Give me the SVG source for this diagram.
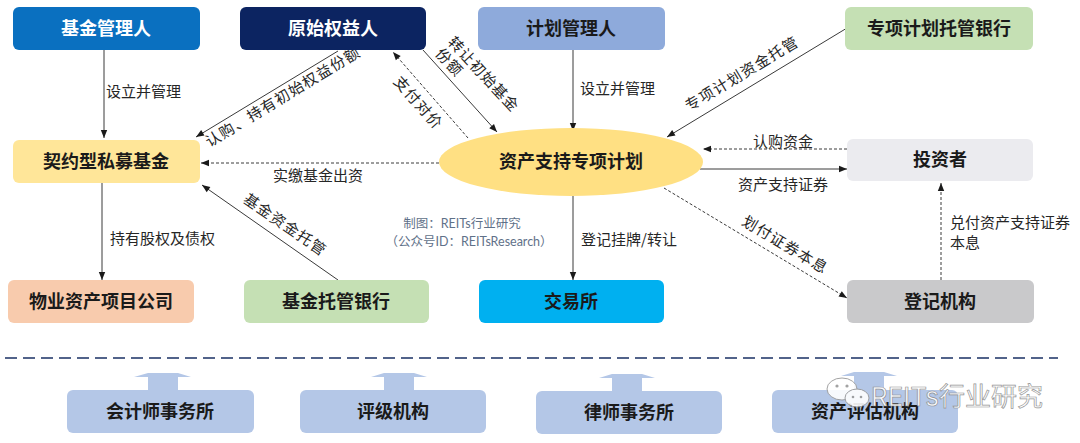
<svg xmlns="http://www.w3.org/2000/svg" width="1080" height="443" viewBox="0 0 1080 443">
<style>
  .bt{font-family:"Noto Sans CJK SC","Noto Sans",sans-serif;font-size:18px;font-weight:700;text-anchor:middle;fill:#1a1a1a}
  .wt{fill:#ffffff}
  .lb{font-family:"Noto Sans CJK SC","Noto Sans",sans-serif;font-size:15px;fill:#262626}
  .rl{letter-spacing:1.2px;text-anchor:middle}
  .mid{text-anchor:middle}
  .ln{stroke:#3a3a3a;stroke-width:1;fill:none}
  .ds{stroke:#3a3a3a;stroke-width:1;fill:none;stroke-dasharray:3 2}
  .ba{fill:#B4C7E7}
  .src{font-family:"Lato","Noto Sans CJK SC",sans-serif;font-size:12.5px;fill:#5f7189;text-anchor:middle}
</style>
<defs>
  <marker id="ah" viewBox="0 0 10 10" refX="10" refY="5" markerWidth="9" markerHeight="8" orient="auto" markerUnits="userSpaceOnUse">
    <path d="M0,1 L10,5 L0,9 z" fill="#1a1a1a"/>
  </marker>
</defs>
<rect width="1080" height="443" fill="#ffffff"/>

<g id="connectors">
  <path class="ln" d="M104,50 V138" marker-end="url(#ah)"/>
  <path class="ln" d="M338,51 L196,137" marker-end="url(#ah)"/>
  <path class="ds" d="M468,138 L393,52" marker-end="url(#ah)"/>
  <path class="ln" d="M423,50 L497,132" marker-end="url(#ah)"/>
  <path class="ln" d="M573,50 V131" marker-end="url(#ah)"/>
  <path class="ln" d="M847,28 L667,137" marker-end="url(#ah)"/>
  <path class="ds" d="M439,163 H201" marker-end="url(#ah)"/>
  <path class="ds" d="M847,149 H703" marker-end="url(#ah)"/>
  <path class="ln" d="M700,169 H847" marker-end="url(#ah)"/>
  <path class="ln" d="M102,183 V280" marker-end="url(#ah)"/>
  <path class="ln" d="M338,280 L202,185" marker-end="url(#ah)"/>
  <path class="ln" d="M573,196 V280" marker-end="url(#ah)"/>
  <path class="ds" d="M664,188 L847,298" marker-end="url(#ah)"/>
  <path class="ds" d="M941,280 V183" marker-end="url(#ah)"/>

  <text class="lb" x="106" y="97">设立并管理</text>
  <text class="lb" x="580" y="94">设立并管理</text>
  <text class="lb mid" x="318" y="181">实缴基金出资</text>
  <text class="lb mid" x="783" y="147">认购资金</text>
  <text class="lb mid" x="783" y="190">资产支持证券</text>
  <text class="lb" x="110" y="244">持有股权及债权</text>
  <text class="lb" x="581" y="245">登记挂牌/转让</text>
  <text class="lb" x="950" y="228">兑付资产支持证券</text>
  <text class="lb" x="950" y="248">本息</text>

  <text class="lb rl" transform="translate(283,97) rotate(-31.3)" y="5">认购、持有初始权益份额</text>
  <text class="lb rl" transform="translate(418,103) rotate(48.5)" y="5">支付对价</text>
  <text class="lb" transform="translate(482,73) rotate(47)" style="letter-spacing:1px"><tspan x="-46" y="5">转让初始基金</tspan><tspan x="-46" y="22">份额</tspan></text>
  <text class="lb rl" transform="translate(742,74) rotate(-31)" y="5">专项计划资金托管</text>
  <text class="lb rl" transform="translate(285,225) rotate(34.6)" y="5">基金资金托管</text>
  <text class="lb rl" transform="translate(785,245) rotate(31)" y="5">划付证券本息</text>
</g>

<g id="n-jjglr"><rect x="13" y="7" width="187" height="43" rx="6" fill="#0A70C0"/><text class="bt wt" x="106" y="35">基金管理人</text></g>
<g id="n-ysqyr"><rect x="240" y="7" width="186" height="43" rx="6" fill="#0C2461"/><text class="bt wt" x="333" y="35">原始权益人</text></g>
<g id="n-jhglr"><rect x="478" y="7" width="187" height="43" rx="6" fill="#8EAADB"/><text class="bt" x="571" y="35">计划管理人</text></g>
<g id="n-zxtg"><rect x="845" y="7" width="188" height="43" rx="6" fill="#C5E0B4"/><text class="bt" x="939" y="35">专项计划托管银行</text></g>
<g id="n-smjj"><rect x="13" y="140" width="187" height="43" rx="6" fill="#FFE699"/><text class="bt" x="106" y="168">契约型私募基金</text></g>
<g id="n-zxjh"><ellipse cx="571" cy="162" rx="132" ry="34" fill="#FFE083"/><text class="bt" x="571" y="168">资产支持专项计划</text></g>
<g id="n-tzz"><rect x="847" y="139" width="186" height="42" rx="6" fill="#EBEBEF"/><text class="bt" x="940" y="166">投资者</text></g>
<g id="n-wyzc"><rect x="8" y="280" width="186" height="43" rx="6" fill="#F8CBAD"/><text class="bt" x="101" y="308">物业资产项目公司</text></g>
<g id="n-jjtg"><rect x="244" y="280" width="185" height="43" rx="6" fill="#C5E0B4"/><text class="bt" x="336" y="308">基金托管银行</text></g>
<g id="n-jys"><rect x="479" y="280" width="185" height="43" rx="6" fill="#00B0F0"/><text class="bt" x="571" y="308">交易所</text></g>
<g id="n-djjg"><rect x="847" y="280" width="187" height="43" rx="6" fill="#C9C9CB"/><text class="bt" x="940" y="308">登记机构</text></g>

<g id="watermark-source">
  <text class="src" x="462" y="228">制图：REITs行业研究</text>
  <text class="src" x="469" y="246">（公众号ID：REITsResearch）</text>
</g>

<g id="separator"><path d="M5,358 H1058" stroke="#52638A" stroke-width="2" stroke-dasharray="12 6" fill="none"/></g>

<g id="n-kjs">
  <polygon class="ba" points="148,373 178,373 191,377 178,377 178,391 148,391 148,377 134,377"/>
  <rect class="ba" x="67" y="390" width="187" height="43" rx="6"/><text class="bt" x="160" y="418">会计师事务所</text>
</g>
<g id="n-pjjg">
  <polygon class="ba" points="384,373 414,373 427,377 414,377 414,391 384,391 384,377 371,377"/>
  <rect class="ba" x="300" y="390" width="186" height="43" rx="6"/><text class="bt" x="393" y="418">评级机构</text>
</g>
<g id="n-lss">
  <polygon class="ba" points="612,374 642,374 655,378 642,378 642,391 612,391 612,378 599,378"/>
  <rect class="ba" x="536" y="391" width="186" height="43" rx="6"/><text class="bt" x="629" y="419">律师事务所</text>
</g>
<g id="n-zcpg">
  <polygon class="ba" points="854,372 884,372 897,376 884,376 884,390 854,390 854,376 841,376"/>
  <rect class="ba" x="772" y="390" width="186" height="43" rx="6"/><text class="bt" x="865" y="418">资产评估机构</text>
</g>

<g id="wechat-watermark" opacity="0.9">
  <ellipse cx="842" cy="389" rx="15" ry="11" fill="#ffffff" stroke="#9a9a9a" stroke-width="1"/>
  <ellipse cx="857" cy="398" rx="12" ry="9" fill="#ffffff" stroke="#9a9a9a" stroke-width="1"/>
  <circle cx="837" cy="386" r="1.6" fill="#9a9a9a"/><circle cx="847" cy="386" r="1.6" fill="#9a9a9a"/>
  <circle cx="853" cy="397" r="1.3" fill="#9a9a9a"/><circle cx="861" cy="397" r="1.3" fill="#9a9a9a"/>
  <text x="871" y="406" font-family="Inter,'Noto Sans CJK SC',sans-serif" font-size="26" fill="#ffffff" stroke="#8a8a8a" stroke-width="0.7">REITs行业研究</text>
</g>
</svg>
